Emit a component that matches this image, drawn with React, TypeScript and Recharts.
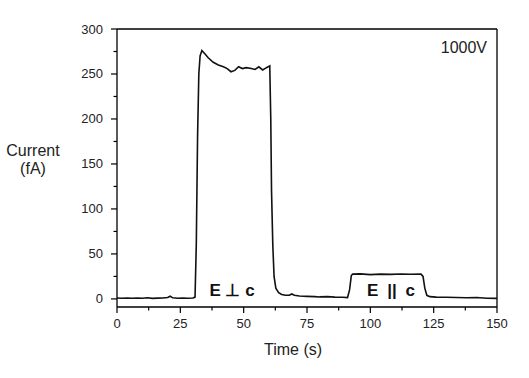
import { LineChart, Line, XAxis, YAxis, ReferenceLine } from "recharts";

// time (s) and current (fA)
const time = [
  0, 2, 4, 6, 8, 10, 12, 14, 16, 18, 20, 21, 22, 24, 26, 28, 30, 30.8, 31.3, 31.8,
  32.3, 32.8, 33.5, 34.5, 36, 38, 40, 42, 43.5, 45, 46.5, 48, 49.5, 51, 53, 54.5,
  56, 57.5, 59, 60.3, 60.7, 61, 61.5, 62, 62.7, 63.8, 65, 66.5, 68, 69, 70, 72, 75,
  78, 80, 83, 86, 89, 91, 91.8, 92.5, 93, 96, 100, 104, 108, 112, 116, 120, 120.8,
  121.5, 122.3, 123.5, 126, 130, 134, 138, 142, 146, 150,
];
const current = [
  1, 0.8, 1, 0.7, 1, 0.8, 1.2, 0.6, 0.9, 1, 1.5, 3, 1.2, 0.8, 1, 0.7, 1, 2, 60, 180,
  250, 270, 276, 273, 268, 263, 260, 258, 256, 252.5, 254, 258, 256, 257, 256, 255,
  258, 254.5, 257, 259, 200, 120, 60, 25, 12, 7, 5, 4, 4, 5.5, 4, 3.2, 2.8,
  2.5, 2.2, 2.5, 2, 1.8, 1.5, 10, 26, 27.5, 27.8, 27, 27.5, 27.3, 27.6, 27.4, 27.5, 25,
  12, 4, 2.5, 2, 1.8, 1.5, 1.2, 1.5, 0.8, 0.6,
];

const xTicks = [0, 12.5, 25, 37.5, 50, 62.5, 75, 87.5, 100, 112.5, 125, 137.5, 150];
const yTicks = [0, 25, 50, 75, 100, 125, 150, 175, 200, 225, 250, 275, 300];

const data = time.map((t, i) => ({ t, v: current[i] }));

const font = "'Liberation Sans', Arial, sans-serif";

function XTick({ x, y, payload }: any) {
  const major = payload.value % 25 === 0;
  return (
    <g>
      <line x1={x} y1={y} x2={x} y2={y + (major ? 6 : 3.5)} stroke="#000" strokeWidth={1.2} />
      {major && (
        <text x={x} y={y + 21} textAnchor="middle" fontSize={13} fill="#222" fontFamily={font}>
          {payload.value}
        </text>
      )}
    </g>
  );
}

function YTick({ x, y, payload }: any) {
  const major = payload.value % 50 === 0;
  return (
    <g>
      <line x1={x - (major ? 6 : 3.5)} y1={y} x2={x} y2={y} stroke="#000" strokeWidth={1.2} />
      {major && (
        <text x={x - 14} y={y + 4.5} textAnchor="end" fontSize={13} fill="#222" fontFamily={font}>
          {payload.value}
        </text>
      )}
    </g>
  );
}

export default function App() {
  return (
    <div style={{ position: "absolute", left: 0, top: 0, width: 529, height: 378, background: "#fff" }}>
      <LineChart width={529} height={378} data={data} margin={{ top: 29, right: 32, left: 0, bottom: 0 }}>
        <XAxis
          dataKey="t"
          type="number"
          domain={[0, 150]}
          ticks={xTicks}
          interval={0}
          height={71}
          tickSize={0}
          tickMargin={0}
          tickLine={false}
          tick={<XTick />}
          axisLine={{ stroke: "#000", strokeWidth: 1.3 }}
        />
        <YAxis
          type="number"
          domain={[-9, 300]}
          allowDataOverflow
          ticks={yTicks}
          interval={0}
          width={117}
          tickSize={0}
          tickMargin={0}
          tickLine={false}
          tick={<YTick />}
          axisLine={{ stroke: "#000", strokeWidth: 1.3 }}
        />
        <ReferenceLine y={300} stroke="#000" strokeWidth={1.3} ifOverflow="visible" />
        <ReferenceLine x={150} stroke="#000" strokeWidth={1.3} ifOverflow="visible" />
        <Line
          type="linear"
          dataKey="v"
          stroke="#111"
          strokeWidth={1.6}
          dot={false}
          isAnimationActive={false}
        />
      </LineChart>
      <svg
        width={529}
        height={378}
        style={{ position: "absolute", left: 0, top: 0, pointerEvents: "none" }}
        fontFamily={font}
      >
        <text x={33} y={156} textAnchor="middle" fontSize={16} fill="#222">Current</text>
        <text x={33} y={174} textAnchor="middle" fontSize={16} fill="#222">(fA)</text>
        <text x={293} y={355} textAnchor="middle" fontSize={16} fill="#222">Time (s)</text>
        <text x={487} y={53} textAnchor="end" fontSize={16} fill="#222">1000V</text>
        <text x={232} y={296} textAnchor="middle" fontSize={17} fontWeight="bold" fill="#111">E ⊥ c</text>
        <text x={391} y={296} textAnchor="middle" fontSize={17} fontWeight="bold" fill="#111" wordSpacing={4}>E || c</text>
      </svg>
    </div>
  );
}
